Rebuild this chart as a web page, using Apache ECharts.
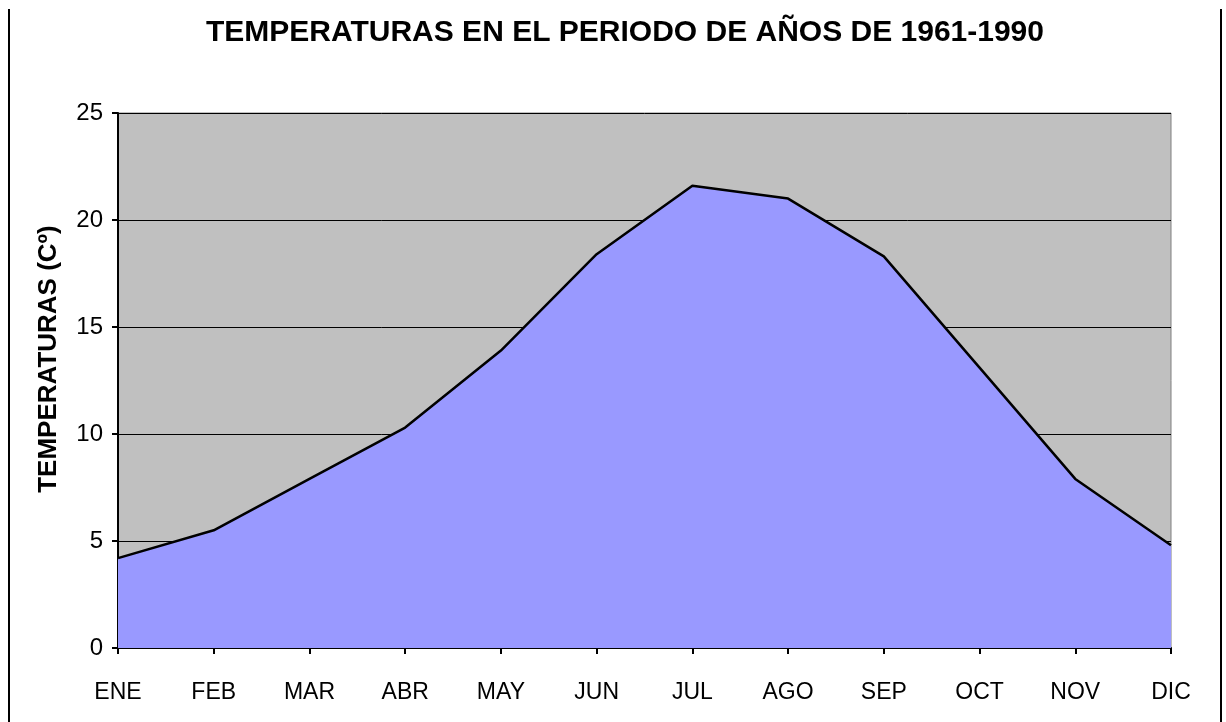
<!DOCTYPE html>
<html><head><meta charset="utf-8">
<script src="https://cdn.jsdelivr.net/npm/echarts@6/dist/echarts.min.js"></script>
<style>html,body{margin:0;padding:0;background:#fff}#c{width:1226px;height:722px}</style>
</head><body><div id="c"></div>
<script>
const months = ['ENE','FEB','MAR','ABR','MAY','JUN','JUL','AGO','SEP','OCT','NOV','DIC'];
const temps = [4.2, 5.5, 7.9, 10.3, 13.9, 18.4, 21.6, 21.0, 18.3, 13.1, 7.9, 4.8];
const yTicks = [0, 5, 10, 15, 20, 25];
const titleText = 'TEMPERATURAS EN EL PERIODO DE AÑOS DE 1961-1990';
const yName = 'TEMPERATURAS (Cº)';

const chart = echarts.init(document.getElementById('c'), null, {renderer:'canvas'});
const font = 'Liberation Sans, Arial, sans-serif';
chart.setOption({
  animation: false,
  backgroundColor: '#fff',
  title: {text: titleText, left: 620, top: 13, textAlign: 'center',
    textStyle: {fontFamily: font, fontWeight: 'bold', fontSize: 30, color: '#000'}},
  grid: {left: 118, right: 55, top: 113, bottom: 74, show: true, backgroundColor: '#C0C0C0', borderColor: '#808080', borderWidth: 1},
  xAxis: {type: 'category', data: months, boundaryGap: false,
    axisLine: {lineStyle: {color: '#000', width: 2}},
    axisTick: {show: true, length: 6, lineStyle: {color: '#000', width: 2}, alignWithLabel: true},
    axisLabel: {fontFamily: font, fontSize: 23, color: '#000', margin: 33},
    splitLine: {show: false}},
  yAxis: {type: 'value', min: yTicks[0], max: yTicks[yTicks.length-1], interval: 5,
    axisLine: {show: true, lineStyle: {color: '#000', width: 2}},
    axisTick: {show: true, length: 6, lineStyle: {color: '#000', width: 2}},
    axisLabel: {fontFamily: font, fontSize: 24, color: '#000', margin: 15, padding: [6, 0, 0, 0]},
    splitLine: {show: true, lineStyle: {color: '#000', width: 1}}},
  series: [{type: 'line', data: temps, symbol: 'none', smooth: false,
    lineStyle: {color: '#000', width: 2.5},
    areaStyle: {color: '#9999FF', opacity: 1}}],
  graphic: [
    {type: 'line', shape: {x1: 9, y1: 9, x2: 9, y2: 722}, style: {stroke: '#000', lineWidth: 2}},
    {type: 'line', shape: {x1: 1221, y1: 9, x2: 1221, y2: 722}, style: {stroke: '#000', lineWidth: 2}},
    {type: 'text', x: 49, y: 359, rotation: Math.PI / 2,
      style: {text: yName, fontFamily: font, fontWeight: 'bold', fontSize: 26, fill: '#000', textAlign: 'center', textVerticalAlign: 'middle'}}
  ]
});
</script></body></html>
